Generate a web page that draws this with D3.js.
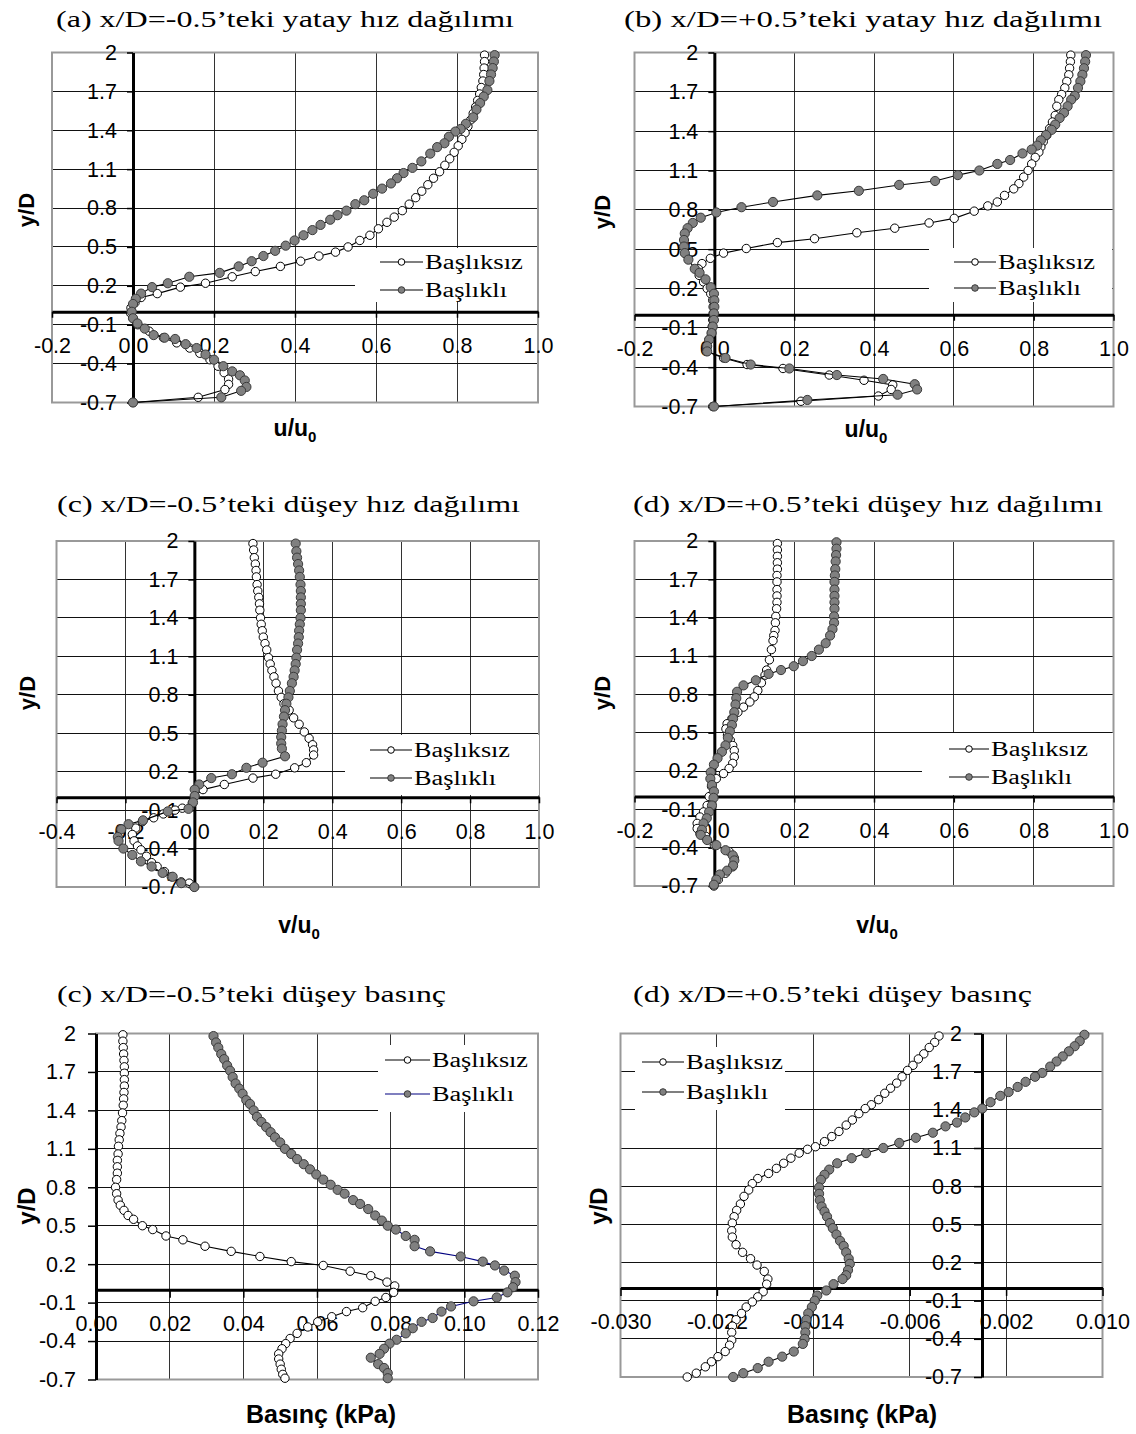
<!DOCTYPE html>
<html>
<head>
<meta charset="utf-8">
<script src="https://cdn.jsdelivr.net/npm/d3@7"></script>
<style>
  body { margin: 0; background: #fff; }
</style>
</head>
<body>
<div id="wrapper"></div>
<script>
// ---- data: [value, y/D] pairs ----
const seriesNames = ["Başlıksız", "Başlıklı"];
const yTicks = [-0.7, -0.4, -0.1, 0.2, 0.5, 0.8, 1.1, 1.4, 1.7, 2];
const xTicksU = [-0.2, 0, 0.2, 0.4, 0.6, 0.8, 1.0];
const xTicksVMinus = [-0.4, -0.2, 0, 0.2, 0.4, 0.6, 0.8, 1.0];
const xTicksPMinus = [0, 0.02, 0.04, 0.06, 0.08, 0.10, 0.12];
const xTicksPPlus = [-0.030, -0.022, -0.014, -0.006, 0.002, 0.010];

// (a) u/u0 at x/D=-0.5
const uMinusPlain = [[0.868,1.98],[0.868,1.93],[0.867,1.88],[0.866,1.83],[0.864,1.78],[0.86,1.73],[0.856,1.68],[0.851,1.63],[0.846,1.58],[0.84,1.53],[0.834,1.48],[0.827,1.43],[0.82,1.38],[0.812,1.33],[0.803,1.28],[0.793,1.23],[0.782,1.18],[0.77,1.13],[0.757,1.08],[0.742,1.03],[0.728,0.98],[0.713,0.93],[0.698,0.88],[0.682,0.83],[0.665,0.78],[0.645,0.73],[0.627,0.69],[0.606,0.64],[0.585,0.59],[0.56,0.55],[0.531,0.5],[0.5,0.46],[0.459,0.43],[0.414,0.39],[0.364,0.35],[0.302,0.31],[0.245,0.27],[0.179,0.22],[0.117,0.19],[0.06,0.14],[0.02,0.11],[0.005,0.07],[-0.005,0.03],[-0.006,-0.01],[0.0,-0.05],[0.012,-0.1],[0.04,-0.15],[0.075,-0.2],[0.108,-0.24],[0.14,-0.28],[0.165,-0.32],[0.19,-0.37],[0.21,-0.42],[0.225,-0.47],[0.236,-0.52],[0.236,-0.56],[0.227,-0.6],[0.161,-0.66],[0.0,-0.7]];
const uMinusCapped = [[0.893,1.98],[0.891,1.93],[0.888,1.88],[0.884,1.83],[0.88,1.78],[0.875,1.71],[0.866,1.66],[0.857,1.61],[0.848,1.56],[0.84,1.5],[0.822,1.45],[0.809,1.41],[0.796,1.39],[0.78,1.35],[0.769,1.3],[0.751,1.27],[0.734,1.22],[0.712,1.16],[0.69,1.11],[0.668,1.07],[0.652,1.03],[0.637,0.99],[0.615,0.95],[0.593,0.91],[0.571,0.86],[0.549,0.83],[0.527,0.78],[0.505,0.745],[0.487,0.71],[0.463,0.67],[0.443,0.63],[0.421,0.59],[0.399,0.55],[0.377,0.51],[0.351,0.47],[0.322,0.43],[0.293,0.39],[0.261,0.35],[0.214,0.3],[0.139,0.27],[0.086,0.22],[0.047,0.19],[0.02,0.14],[0.007,0.1],[0.0,0.06],[-0.003,0.0],[0.0,-0.05],[0.011,-0.09],[0.029,-0.13],[0.051,-0.18],[0.078,-0.2],[0.104,-0.21],[0.13,-0.25],[0.157,-0.28],[0.179,-0.33],[0.2,-0.37],[0.223,-0.42],[0.245,-0.46],[0.264,-0.49],[0.276,-0.53],[0.28,-0.58],[0.267,-0.61],[0.218,-0.66],[0.0,-0.7]];

// (b) u/u0 at x/D=+0.5
const uPlusPlain = [[0.893,1.98],[0.892,1.93],[0.89,1.88],[0.888,1.83],[0.883,1.78],[0.878,1.73],[0.87,1.68],[0.863,1.64],[0.858,1.59],[0.854,1.52],[0.847,1.47],[0.84,1.42],[0.833,1.37],[0.824,1.32],[0.818,1.28],[0.813,1.24],[0.804,1.2],[0.795,1.15],[0.786,1.1],[0.775,1.05],[0.763,1.0],[0.75,0.96],[0.727,0.91],[0.709,0.86],[0.685,0.83],[0.651,0.79],[0.601,0.735],[0.538,0.7],[0.452,0.66],[0.357,0.625],[0.251,0.58],[0.158,0.55],[0.08,0.505],[0.023,0.47],[-0.01,0.43],[-0.031,0.39],[-0.04,0.35],[-0.038,0.3],[-0.027,0.25],[-0.018,0.2],[-0.009,0.16],[-0.004,0.11],[-0.003,0.06],[-0.003,0.01],[-0.004,-0.04],[-0.005,-0.09],[-0.007,-0.14],[-0.013,-0.19],[-0.019,-0.24],[-0.02,-0.28],[0.023,-0.33],[0.082,-0.38],[0.172,-0.41],[0.288,-0.46],[0.375,-0.5],[0.447,-0.535],[0.443,-0.57],[0.411,-0.62],[0.217,-0.66],[-0.004,-0.7]];
const uPlusCapped = [[0.931,1.98],[0.929,1.93],[0.926,1.88],[0.922,1.83],[0.917,1.78],[0.911,1.73],[0.903,1.67],[0.894,1.64],[0.885,1.59],[0.876,1.54],[0.865,1.5],[0.854,1.45],[0.845,1.41],[0.831,1.37],[0.818,1.33],[0.809,1.29],[0.795,1.26],[0.772,1.23],[0.741,1.18],[0.709,1.15],[0.664,1.1],[0.61,1.065],[0.553,1.02],[0.463,0.99],[0.362,0.945],[0.258,0.91],[0.147,0.86],[0.068,0.82],[0.005,0.78],[-0.034,0.74],[-0.054,0.7],[-0.067,0.66],[-0.074,0.62],[-0.076,0.57],[-0.076,0.52],[-0.074,0.47],[-0.065,0.42],[-0.049,0.35],[-0.037,0.32],[-0.022,0.27],[-0.009,0.21],[-0.001,0.16],[0.0,0.11],[0.0,0.06],[-0.001,0.01],[-0.001,-0.04],[-0.004,-0.09],[-0.007,-0.14],[-0.013,-0.19],[-0.018,-0.24],[-0.018,-0.28],[0.028,-0.33],[0.091,-0.38],[0.188,-0.41],[0.307,-0.46],[0.423,-0.49],[0.502,-0.53],[0.508,-0.57],[0.459,-0.61],[0.233,-0.65],[-0.001,-0.7]];

// (c) v/u0 at x/D=-0.5
const vMinusPlain = [[0.17,1.98],[0.172,1.93],[0.174,1.87],[0.177,1.82],[0.179,1.77],[0.18,1.72],[0.182,1.66],[0.184,1.61],[0.187,1.56],[0.189,1.51],[0.19,1.46],[0.192,1.4],[0.194,1.35],[0.197,1.3],[0.2,1.25],[0.205,1.2],[0.21,1.15],[0.215,1.09],[0.22,1.04],[0.225,0.99],[0.231,0.94],[0.237,0.89],[0.244,0.83],[0.252,0.78],[0.26,0.73],[0.275,0.68],[0.288,0.62],[0.304,0.57],[0.319,0.51],[0.333,0.46],[0.343,0.41],[0.346,0.37],[0.346,0.33],[0.325,0.27],[0.291,0.23],[0.236,0.18],[0.17,0.15],[0.087,0.1],[0.025,0.06],[0.001,0.01],[-0.006,-0.045],[-0.035,-0.085],[-0.056,-0.1],[-0.09,-0.13],[-0.118,-0.16],[-0.151,-0.19],[-0.17,-0.24],[-0.18,-0.29],[-0.175,-0.34],[-0.165,-0.38],[-0.155,-0.41],[-0.139,-0.46],[-0.124,-0.51],[-0.108,-0.54],[-0.087,-0.58],[-0.067,-0.62],[-0.038,-0.66],[-0.015,-0.67],[0.0,-0.7]];
const vMinusCapped = [[0.294,1.98],[0.296,1.92],[0.298,1.87],[0.301,1.82],[0.304,1.77],[0.306,1.72],[0.308,1.66],[0.309,1.61],[0.309,1.56],[0.309,1.51],[0.309,1.46],[0.308,1.4],[0.306,1.35],[0.304,1.3],[0.303,1.25],[0.301,1.2],[0.298,1.15],[0.296,1.09],[0.294,1.04],[0.291,0.99],[0.288,0.94],[0.283,0.89],[0.277,0.83],[0.273,0.78],[0.267,0.73],[0.263,0.68],[0.26,0.63],[0.256,0.57],[0.254,0.52],[0.252,0.47],[0.252,0.42],[0.254,0.38],[0.263,0.32],[0.198,0.27],[0.151,0.23],[0.109,0.18],[0.049,0.15],[0.014,0.1],[0.001,0.06],[0.001,0.01],[-0.004,-0.04],[-0.017,-0.09],[-0.077,-0.11],[-0.149,-0.18],[-0.191,-0.21],[-0.212,-0.25],[-0.222,-0.31],[-0.22,-0.34],[-0.206,-0.4],[-0.18,-0.45],[-0.155,-0.5],[-0.124,-0.54],[-0.092,-0.59],[-0.063,-0.62],[-0.038,-0.67],[0.0,-0.7]];

// (d) v/u0 at x/D=+0.5
const vPlusPlain = [[0.158,1.98],[0.158,1.93],[0.158,1.88],[0.158,1.83],[0.158,1.78],[0.157,1.73],[0.157,1.68],[0.157,1.62],[0.157,1.57],[0.157,1.52],[0.156,1.47],[0.154,1.41],[0.153,1.36],[0.152,1.3],[0.149,1.26],[0.147,1.22],[0.143,1.15],[0.138,1.07],[0.131,0.99],[0.127,0.95],[0.118,0.89],[0.109,0.83],[0.1,0.78],[0.089,0.74],[0.073,0.7],[0.059,0.66],[0.044,0.61],[0.032,0.57],[0.029,0.53],[0.033,0.48],[0.04,0.44],[0.046,0.4],[0.05,0.36],[0.05,0.31],[0.046,0.26],[0.037,0.22],[0.023,0.18],[0.005,0.14],[-0.007,0.08],[-0.013,0.0],[-0.018,-0.07],[-0.027,-0.12],[-0.036,-0.16],[-0.043,-0.21],[-0.043,-0.25],[-0.036,-0.29],[-0.022,-0.31],[0.0,-0.38],[0.037,-0.43],[0.05,-0.48],[0.046,-0.55],[0.028,-0.6],[0.01,-0.65],[-0.001,-0.7]];
const vPlusCapped = [[0.306,1.99],[0.306,1.94],[0.305,1.89],[0.304,1.84],[0.303,1.78],[0.302,1.73],[0.301,1.68],[0.301,1.62],[0.301,1.57],[0.301,1.52],[0.301,1.47],[0.3,1.41],[0.3,1.36],[0.296,1.31],[0.29,1.26],[0.279,1.2],[0.262,1.15],[0.244,1.1],[0.222,1.06],[0.199,1.02],[0.167,0.99],[0.136,0.96],[0.104,0.91],[0.073,0.87],[0.057,0.82],[0.055,0.77],[0.053,0.72],[0.05,0.66],[0.047,0.61],[0.044,0.56],[0.039,0.51],[0.034,0.46],[0.028,0.4],[0.019,0.35],[0.008,0.3],[-0.001,0.25],[-0.009,0.19],[-0.01,0.14],[-0.006,0.09],[-0.001,0.04],[-0.002,-0.01],[-0.006,-0.07],[-0.013,-0.12],[-0.019,-0.17],[-0.027,-0.21],[-0.031,-0.26],[-0.034,-0.3],[-0.018,-0.34],[0.005,-0.38],[0.028,-0.42],[0.046,-0.46],[0.05,-0.5],[0.047,-0.54],[0.032,-0.58],[0.014,-0.61],[0.005,-0.65],[-0.001,-0.69]];

// (e) pressure (kPa) at x/D=-0.5
const pMinusPlain = [[0.0073,1.99],[0.0073,1.94],[0.0074,1.89],[0.0075,1.84],[0.0076,1.79],[0.0077,1.74],[0.0077,1.69],[0.0077,1.64],[0.0077,1.59],[0.0076,1.54],[0.0075,1.49],[0.0074,1.44],[0.0072,1.38],[0.007,1.32],[0.0068,1.27],[0.0065,1.22],[0.0063,1.17],[0.0061,1.12],[0.006,1.06],[0.0058,1.01],[0.0058,0.96],[0.0058,0.91],[0.0056,0.86],[0.0053,0.8],[0.0056,0.75],[0.006,0.7],[0.0066,0.66],[0.0076,0.62],[0.0087,0.58],[0.0102,0.55],[0.0126,0.5],[0.0154,0.47],[0.019,0.42],[0.0236,0.39],[0.0296,0.34],[0.0367,0.3],[0.0445,0.26],[0.053,0.22],[0.0617,0.19],[0.069,0.145],[0.0746,0.11],[0.079,0.06],[0.0811,0.03],[0.0808,-0.02],[0.0787,-0.06],[0.0758,-0.09],[0.0724,-0.14],[0.068,-0.17],[0.064,-0.21],[0.0602,-0.25],[0.0575,-0.29],[0.0546,-0.34],[0.0527,-0.38],[0.0515,-0.42],[0.0505,-0.46],[0.0496,-0.5],[0.0496,-0.54],[0.05,-0.58],[0.0503,-0.62],[0.0507,-0.66],[0.0513,-0.69]];
const pMinusCapped = [[0.0319,1.98],[0.0326,1.93],[0.0332,1.89],[0.034,1.84],[0.0348,1.8],[0.0356,1.75],[0.0364,1.71],[0.0371,1.66],[0.0379,1.61],[0.0389,1.57],[0.0398,1.53],[0.0408,1.48],[0.0418,1.45],[0.0428,1.4],[0.0437,1.35],[0.0449,1.31],[0.0462,1.27],[0.0474,1.23],[0.0486,1.19],[0.05,1.15],[0.0513,1.1],[0.053,1.06],[0.0546,1.02],[0.0564,0.98],[0.0581,0.94],[0.0598,0.9],[0.0617,0.86],[0.0637,0.82],[0.0656,0.78],[0.0675,0.75],[0.0698,0.7],[0.0717,0.67],[0.0739,0.63],[0.0758,0.58],[0.0776,0.54],[0.0792,0.5],[0.0814,0.47],[0.0841,0.42],[0.0865,0.39],[0.0865,0.34],[0.0907,0.3],[0.099,0.26],[0.105,0.22],[0.1083,0.19],[0.1108,0.15],[0.1137,0.11],[0.1139,0.06],[0.1132,0.02],[0.1117,-0.02],[0.1088,-0.06],[0.1025,-0.09],[0.0964,-0.13],[0.0938,-0.17],[0.0914,-0.22],[0.0884,-0.25],[0.086,-0.3],[0.0841,-0.34],[0.0816,-0.39],[0.0797,-0.42],[0.0782,-0.46],[0.077,-0.5],[0.0746,-0.53],[0.0766,-0.58],[0.0782,-0.61],[0.0792,-0.65],[0.0792,-0.69]];

// (f) pressure (kPa) at x/D=+0.5
const pPlusPlain = [[-0.00357,1.98],[-0.00393,1.93],[-0.00438,1.89],[-0.00483,1.84],[-0.00528,1.8],[-0.00573,1.75],[-0.00618,1.71],[-0.00663,1.66],[-0.00708,1.61],[-0.00759,1.57],[-0.00807,1.53],[-0.00858,1.48],[-0.00918,1.44],[-0.00969,1.41],[-0.01022,1.37],[-0.01076,1.32],[-0.01127,1.28],[-0.01187,1.23],[-0.01247,1.19],[-0.01307,1.15],[-0.01382,1.11],[-0.01448,1.09],[-0.01517,1.06],[-0.01586,1.02],[-0.01646,0.98],[-0.01706,0.94],[-0.01771,0.9],[-0.01861,0.86],[-0.01906,0.82],[-0.01936,0.77],[-0.01975,0.72],[-0.02005,0.66],[-0.02036,0.61],[-0.02057,0.56],[-0.02072,0.51],[-0.02077,0.45],[-0.02072,0.4],[-0.02041,0.34],[-0.01987,0.28],[-0.01921,0.23],[-0.01867,0.18],[-0.01807,0.13],[-0.01777,0.07],[-0.01787,0.03],[-0.01816,-0.03],[-0.01861,-0.07],[-0.01906,-0.11],[-0.01957,-0.15],[-0.01996,-0.2],[-0.02041,-0.25],[-0.02071,-0.3],[-0.02077,-0.35],[-0.02077,-0.41],[-0.02095,-0.45],[-0.02131,-0.5],[-0.02191,-0.54],[-0.02245,-0.58],[-0.02296,-0.62],[-0.02371,-0.67],[-0.02446,-0.7]];
const pPlusCapped = [[0.0085,1.99],[0.00811,1.94],[0.00769,1.9],[0.00721,1.86],[0.0067,1.82],[0.00619,1.78],[0.00566,1.74],[0.005,1.69],[0.0044,1.66],[0.00362,1.62],[0.00296,1.58],[0.00221,1.54],[0.00152,1.51],[0.00071,1.46],[0.00002,1.41],[-0.00064,1.38],[-0.00139,1.34],[-0.00208,1.3],[-0.00303,1.27],[-0.00408,1.22],[-0.00549,1.18],[-0.00687,1.14],[-0.00819,1.1],[-0.00962,1.06],[-0.01082,1.02],[-0.01202,0.98],[-0.01268,0.93],[-0.01307,0.89],[-0.01337,0.85],[-0.01352,0.79],[-0.01352,0.74],[-0.01346,0.69],[-0.01331,0.64],[-0.01307,0.6],[-0.01286,0.56],[-0.01262,0.51],[-0.01238,0.47],[-0.01208,0.42],[-0.01178,0.37],[-0.01148,0.33],[-0.01127,0.28],[-0.01106,0.23],[-0.01097,0.19],[-0.01112,0.14],[-0.01127,0.1],[-0.01157,0.07],[-0.01232,0.03],[-0.01292,-0.02],[-0.01367,-0.06],[-0.01388,-0.1],[-0.01412,-0.15],[-0.01442,-0.2],[-0.01457,-0.25],[-0.01466,-0.3],[-0.01466,-0.35],[-0.01472,-0.4],[-0.01487,-0.44],[-0.01562,-0.5],[-0.01658,-0.54],[-0.01771,-0.58],[-0.01861,-0.63],[-0.01981,-0.67],[-0.02065,-0.7]];

const panels = [
  { title: "(a) x/D=-0.5’teki yatay hız dağılımı", titleX: 56, titleW: 458, titleY: 27,
    plain: uMinusPlain, capped: uMinusCapped, xTicks: xTicksU, digits: 1,
    left: 52, right: 538, top: 52.5, bottom: 402.5, tick: 6, yPad: 10,
    xLabel: "u/u", sub: "0", xLabelX: 295, xLabelY: 436, yLabelX: 26, yLabelY: 210, labelSize: 23,
    legend: { x: 355, y: 248, w: 182, h: 54, lx1: 380, lx2: 423, tx: 425, rows: [262, 290], tw: [98, 82] } },
  { title: "(b) x/D=+0.5’teki yatay hız dağılımı", titleX: 624, titleW: 478, titleY: 26.5,
    plain: uPlusPlain, capped: uPlusCapped, xTicks: xTicksU, digits: 1,
    left: 634.5, right: 1113.5, top: 52.5, bottom: 406.5, tick: 6, yPad: 10,
    xLabel: "u/u", sub: "0", xLabelX: 866, xLabelY: 437, yLabelX: 602, yLabelY: 212, labelSize: 23,
    legend: { x: 929, y: 248, w: 183, h: 54, lx1: 954, lx2: 996, tx: 998, rows: [262, 288], tw: [97, 83] } },
  { title: "(c) x/D=-0.5’teki düşey hız dağılımı", titleX: 57, titleW: 463, titleY: 511.5,
    plain: vMinusPlain, capped: vMinusCapped, xTicks: xTicksVMinus, digits: 1,
    left: 56.5, right: 539, top: 541, bottom: 887, tick: 6, yPad: 10,
    xLabel: "v/u", sub: "0", xLabelX: 299, xLabelY: 933, yLabelX: 27, yLabelY: 693, labelSize: 23,
    legend: { x: 345, y: 735, w: 194, h: 60, lx1: 370, lx2: 412, tx: 414, rows: [750, 778], tw: [96, 82] } },
  { title: "(d) x/D=+0.5’teki düşey hız dağılımı", titleX: 633, titleW: 470, titleY: 511.5,
    plain: vPlusPlain, capped: vPlusCapped, xTicks: xTicksU, digits: 1,
    left: 634.5, right: 1113.5, top: 541, bottom: 886, tick: 6, yPad: 10,
    xLabel: "v/u", sub: "0", xLabelX: 877, xLabelY: 933, yLabelX: 602, yLabelY: 693, labelSize: 23,
    legend: { x: 922, y: 733, w: 191, h: 62, lx1: 949, lx2: 989, tx: 991, rows: [749, 777], tw: [97, 81] } },
  { title: "(c) x/D=-0.5’teki düşey basınç", titleX: 57, titleW: 389, titleY: 1001.5,
    plain: pMinusPlain, capped: pMinusCapped, xTicks: xTicksPMinus, digits: 2, cappedColor: "#000080",
    left: 96, right: 538, top: 1033.5, bottom: 1379.5, tick: 8, yPad: 12,
    xLabel: "Basınç (kPa)", sub: "", xLabelX: 321, xLabelY: 1423, yLabelX: 27, yLabelY: 1206, labelSize: 25,
    legend: { x: 378, y: 1045, w: 159, h: 67, lx1: 385, lx2: 430, tx: 432, rows: [1060, 1094], tw: [96, 82] } },
  { title: "(d) x/D=+0.5’teki düşey basınç", titleX: 633, titleW: 399, titleY: 1001.5,
    plain: pPlusPlain, capped: pPlusCapped, xTicks: xTicksPPlus, digits: 3,
    left: 620.5, right: 1102.5, top: 1033.5, bottom: 1377, tick: 8, yPad: 12,
    xLabel: "Basınç (kPa)", sub: "", xLabelX: 862, xLabelY: 1423, yLabelX: 599, yLabelY: 1206, labelSize: 25,
    legend: { x: 635, y: 1047, w: 150, h: 63, lx1: 642, lx2: 684, tx: 686, rows: [1062, 1092], tw: [97, 82] } }
];

const sansFont = "'Liberation Sans', Arial, Helvetica, sans-serif";
const serifFont = "'Liberation Serif', 'Times New Roman', Times, serif";
const tickFont = 21.5;

const svg = d3.select("#wrapper").append("svg")
  .attr("width", 1136)
  .attr("height", 1434)
  .style("display", "block")
  .style("background", "#fff");

function drawPanel(p) {
  const g = svg.append("g");

  const xScale = d3.scaleLinear()
    .domain([p.xTicks[0], p.xTicks[p.xTicks.length - 1]])
    .range([p.left, p.right]);
  const yScale = d3.scaleLinear()
    .domain([yTicks[0], yTicks[yTicks.length - 1]])
    .range([p.bottom, p.top]);

  // title
  g.append("text")
    .attr("x", p.titleX)
    .attr("y", p.titleY)
    .attr("textLength", p.titleW)
    .attr("lengthAdjust", "spacingAndGlyphs")
    .style("font-family", serifFont)
    .style("font-size", "24px")
    .text(p.title);

  // grid
  const grid = g.append("g").attr("shape-rendering", "crispEdges");
  grid.selectAll(".vg").data(p.xTicks).join("line")
    .attr("x1", d => xScale(d)).attr("x2", d => xScale(d))
    .attr("y1", p.top).attr("y2", p.bottom)
    .attr("stroke", "#333").attr("stroke-width", 1);
  grid.selectAll(".hg").data(yTicks).join("line")
    .attr("x1", p.left).attr("x2", p.right)
    .attr("y1", d => yScale(d)).attr("y2", d => yScale(d))
    .attr("stroke", "#111").attr("stroke-width", 1);
  g.append("rect")
    .attr("x", p.left).attr("y", p.top)
    .attr("width", p.right - p.left).attr("height", p.bottom - p.top)
    .attr("fill", "none").attr("stroke", "#999").attr("stroke-width", 2);

  // axes crossing at zero
  const xAxis = d3.axisBottom(xScale)
    .tickValues(p.xTicks)
    .tickSizeInner(p.tick).tickSizeOuter(0).tickPadding(26 - p.tick)
    .tickFormat(d => d.toFixed(p.digits));
  const yAxis = d3.axisLeft(yScale)
    .tickValues(yTicks)
    .tickSizeInner(p.tick).tickSizeOuter(0).tickPadding(p.yPad)
    .tickFormat(d => String(d));

  [[xAxis, `translate(0,${yScale(0)})`], [yAxis, `translate(${xScale(0)},0)`]].forEach(([ax, tr]) => {
    g.append("g")
      .attr("transform", tr)
      .call(ax)
      .attr("font-family", sansFont)
      .attr("font-size", tickFont)
      .call(a => a.select(".domain").attr("stroke", "#000").attr("stroke-width", 3))
      .call(a => a.selectAll(".tick line").attr("stroke", "#000").attr("stroke-width", 1.5))
      .call(a => a.selectAll(".tick text").attr("fill", "#000"));
  });

  // axis titles
  const xt = g.append("text")
    .attr("x", p.xLabelX).attr("y", p.xLabelY)
    .attr("text-anchor", "middle")
    .style("font-family", sansFont)
    .style("font-weight", "bold")
    .style("font-size", p.labelSize + "px");
  xt.append("tspan").text(p.xLabel);
  if (p.sub) xt.append("tspan").attr("dy", 6).style("font-size", "15px").text(p.sub);

  g.append("text")
    .attr("transform", `translate(${p.yLabelX},${p.yLabelY}) rotate(-90)`)
    .attr("text-anchor", "middle")
    .attr("dy", "0.35em")
    .style("font-family", sansFont)
    .style("font-weight", "bold")
    .style("font-size", (p.labelSize - 1) + "px")
    .text("y/D");

  // series: Başlıksız (open circles) then Başlıklı (grey circles)
  const line = d3.line().x(d => xScale(d[0])).y(d => yScale(d[1]));
  const styles = [
    { data: p.plain, fill: "#fff", stroke: "#000", line: "#000", r: 4.2 },
    { data: p.capped, fill: "#808080", stroke: "#3a3a3a", line: p.cappedColor || "#000", r: 4.6 }
  ];
  styles.forEach(s => {
    g.append("path")
      .datum(s.data)
      .attr("d", line)
      .attr("fill", "none")
      .attr("stroke", s.line)
      .attr("stroke-width", 1.1);
    g.append("g").selectAll("circle").data(s.data).join("circle")
      .attr("cx", d => xScale(d[0]))
      .attr("cy", d => yScale(d[1]))
      .attr("r", s.r)
      .attr("fill", s.fill)
      .attr("stroke", s.stroke)
      .attr("stroke-width", 1);
  });

  // legend
  const lg = p.legend;
  const leg = g.append("g");
  leg.append("rect")
    .attr("x", lg.x).attr("y", lg.y).attr("width", lg.w).attr("height", lg.h)
    .attr("fill", "#fff");
  seriesNames.forEach((name, i) => {
    const s = styles[i];
    const ry = lg.rows[i];
    leg.append("line")
      .attr("x1", lg.lx1).attr("x2", lg.lx2).attr("y1", ry).attr("y2", ry)
      .attr("stroke", s.line).attr("stroke-width", 1.1);
    leg.append("circle")
      .attr("cx", (lg.lx1 + lg.lx2) / 2).attr("cy", ry).attr("r", 3.3)
      .attr("fill", s.fill).attr("stroke", s.stroke);
    leg.append("text")
      .attr("x", lg.tx).attr("y", ry + 7)
      .attr("textLength", lg.tw[i])
      .attr("lengthAdjust", "spacingAndGlyphs")
      .style("font-family", serifFont)
      .style("font-size", "20px")
      .text(name);
  });
}

panels.forEach(drawPanel);
</script>
</body>
</html>
